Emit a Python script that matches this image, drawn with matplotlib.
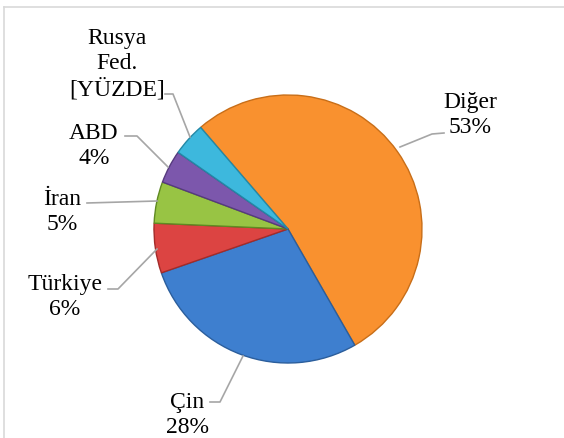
import matplotlib.pyplot as plt

# Veriler
ulkeler = ["Diğer", "Çin", "Türkiye", "İran", "ABD", "Rusya\nFed."]
yuzdeler = [53, 28, 6, 5, 4, 4]
etiketler = ["Diğer\n53%", "Çin\n28%", "Türkiye\n6%", "İran\n5%", "ABD\n4%",
             "Rusya\nFed.\n[YÜZDE]"]
renkler = ["#F9912F", "#3E7FCF", "#DC4442", "#98C444", "#7C57AC", "#3DB8DD"]
kenarlar = ["#C86E18", "#2B5E9C", "#A32B29", "#5F8A22", "#563A7E", "#2388A6"]

W, H = 564, 439

fig = plt.figure(figsize=(W / 100, H / 100), dpi=100)
ax = fig.add_axes([0, 0, 1, 1])

# Pasta
wedges, _ = ax.pie(yuzdeler, colors=renkler, startangle=130.7,
                   counterclock=False, center=(288, H - 230), radius=134,
                   wedgeprops=dict(linewidth=1.0))
for w, k in zip(wedges, kenarlar):
    w.set_edgecolor(k)
ax.set_xlim(0, W)
ax.set_ylim(0, H)
ax.set_aspect("equal")
ax.set_axis_off()

# Çerçeve (sol ve üst kenar)
ax.plot([3.5, 3.5], [-5, H - 8], color="#d9d9d9", linewidth=1.2)
ax.plot([3.5, W + 5], [H - 8, H - 8], color="#d9d9d9", linewidth=1.2)

# Etiket konumları (piksel)
konum = [(470, 115), (187, 415), (65, 297), (62, 212), (94, 146), (117, 64)]
# Kılavuz çizgileri
cizgiler = [
    [(444, 134), (432, 135), (400, 148)],
    [(210, 403), (220, 403), (243, 357)],
    [(108, 290), (118, 290), (157, 250)],
    [(87, 204), (157, 202)],
    [(125, 137), (137, 137), (168, 168)],
    [(165, 95), (173, 95), (190, 138)],
]

for et, (x, y) in zip(etiketler, konum):
    ax.text(x, H - y, et, ha="center", va="center", fontsize=17,
            family="Liberation Serif", linespacing=1.25, color="black")

for c in cizgiler:
    xs = [p[0] for p in c]
    ys = [H - p[1] for p in c]
    ax.plot(xs, ys, color="#a6a6a6", linewidth=1.2)

plt.savefig("out.png", dpi=100)
